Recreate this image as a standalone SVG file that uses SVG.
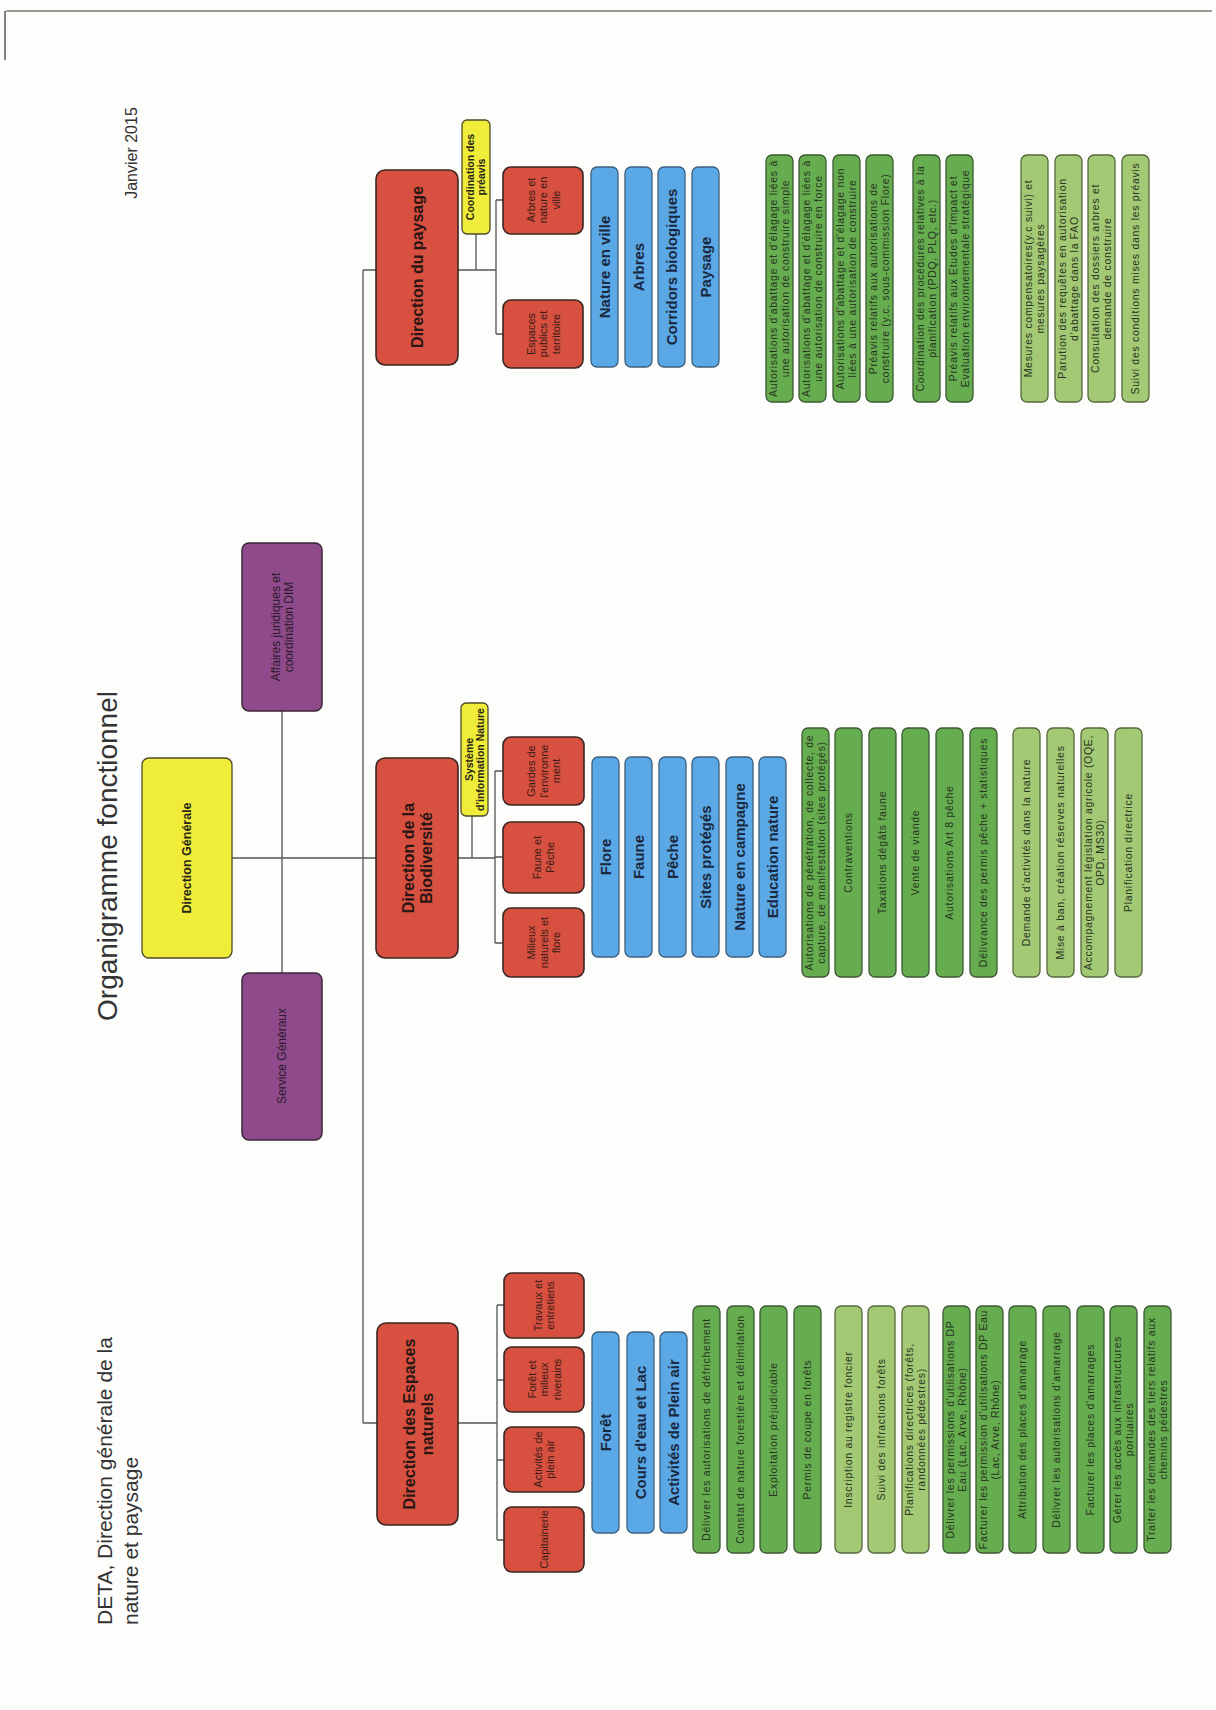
<svg xmlns="http://www.w3.org/2000/svg" width="1216" height="1710" viewBox="0 0 1216 1710">
<style>
text{font-family:"Liberation Sans",Arial,sans-serif;}
.red{fill:#d8503f;stroke:#3a2622;stroke-width:1.6}
.blue{fill:#5aa8e6;stroke:#3c5f7e;stroke-width:1.3}
.yel{fill:#f0ec3a;stroke:#4e4a2c;stroke-width:1.3}
.pur{fill:#8f4a8c;stroke:#3a2838;stroke-width:1.5}
.gm{fill:#66ad4f;stroke:#3c5835;stroke-width:1.3}
.gl{fill:#a3c974;stroke:#56683f;stroke-width:1.3}
.ln{stroke:#555;stroke-width:1.3;fill:none}
.tm{font-size:16px;font-weight:bold;fill:#2a1614;text-anchor:middle}
.tb{font-size:15px;font-weight:bold;fill:#1a2840;text-anchor:middle}
.ts{font-size:11px;fill:#3a1c18;text-anchor:middle}
.tg{font-size:10.5px;letter-spacing:0.7px;fill:#283522;text-anchor:middle}
.ty{font-size:10.5px;font-weight:bold;fill:#2a2814;text-anchor:middle}
.tp{font-size:12px;fill:#2a1a2a;text-anchor:middle}
.tdg{font-size:12.5px;font-weight:bold;fill:#2a2814;text-anchor:middle}
.title{font-size:28px;fill:#333;text-anchor:middle}
.sub{font-size:21px;fill:#333}
.date{font-size:16px;fill:#333;text-anchor:middle}
</style>
<rect width="1216" height="1710" fill="#fdfdfb"/>
<line x1="6" y1="11" x2="1212" y2="11" stroke="#9a9a96" stroke-width="2"/>
<line x1="5" y1="11" x2="5" y2="60" stroke="#555" stroke-width="1.5"/>

<!-- header texts -->
<text class="title" transform="translate(117,856) rotate(-90)">Organigramme fonctionnel</text>
<text class="date" transform="translate(137,153) rotate(-90)">Janvier 2015</text>
<text class="sub" transform="translate(112,1625) rotate(-90)">DETA, Direction générale de la</text>
<text class="sub" transform="translate(138,1625) rotate(-90)">nature et paysage</text>

<!-- connectors -->
<g id="connectors">
<path class="ln" d="M363 270 V1423 M363 270 H376 M363 1423 H377 M232 858 H376 M282 711 V973"/>
<path class="ln" d="M458 270 H496 M476 234 V270 M496 200 V334 M496 200 H503 M496 334 H503"/>
<path class="ln" d="M458 858 H495 M472 816 V858 M495 771 V943 M495 771 H503 M495 857 H503 M495 943 H503"/>
<path class="ln" d="M458 1423 H497 M497 1305 V1540 M497 1305 H504 M497 1380 H504 M497 1460 H504 M497 1540 H504"/>
</g>

<!-- top level -->
<g id="direction-generale"><rect class="yel" x="142" y="758" width="90" height="200" rx="7"/>
<text class="tdg" transform="translate(187,858) rotate(-90)" y="4">Direction Générale</text></g>
<g id="affaires-juridiques"><rect class="pur" x="242" y="543" width="80" height="168" rx="7"/>
<text class="tp" transform="translate(282,627) rotate(-90)"><tspan x="0" y="-2">Affaires juridiques et</tspan><tspan x="0" y="11">coordination DIM</tspan></text></g>
<g id="service-generaux"><rect class="pur" x="242" y="973" width="80" height="167" rx="7"/>
<text class="tp" transform="translate(282,1056) rotate(-90)" y="4">Service Généraux</text></g>

<!-- Direction du paysage -->
<g id="direction-paysage"><rect class="red" x="376" y="170" width="82" height="195" rx="9"/>
<text class="tm" transform="translate(417,267) rotate(-90)" y="5.5">Direction du paysage</text></g>
<g id="coordination-preavis"><rect class="yel" x="462" y="120" width="28" height="114" rx="5"/>
<text class="ty" transform="translate(476,177) rotate(-90)"><tspan x="0" y="-2">Coordination des</tspan><tspan x="0" y="9">préavis</tspan></text></g>
<g id="arbres-nature-ville"><rect class="red" x="503" y="167" width="80" height="67" rx="8"/>
<text class="ts" transform="translate(543,200) rotate(-90)"><tspan x="0" y="-8.5">Arbres et</tspan><tspan x="0" y="4">nature en</tspan><tspan x="0" y="16.5">ville</tspan></text></g>
<g id="espaces-publics"><rect class="red" x="503" y="300" width="80" height="68" rx="8"/>
<text class="ts" transform="translate(543,334) rotate(-90)"><tspan x="0" y="-8.5">Espaces</tspan><tspan x="0" y="4">publics et</tspan><tspan x="0" y="16.5">territoire</tspan></text></g>
<g id="nature-en-ville"><rect class="blue" x="591" y="167" width="27" height="200" rx="6"/><text class="tb" transform="translate(604.5,267) rotate(-90)" y="5.5">Nature en ville</text></g>
<g id="arbres"><rect class="blue" x="625" y="167" width="27" height="200" rx="6"/><text class="tb" transform="translate(638.5,267) rotate(-90)" y="5.5">Arbres</text></g>
<g id="corridors"><rect class="blue" x="658" y="167" width="27" height="200" rx="6"/><text class="tb" transform="translate(671.5,267) rotate(-90)" y="5.5">Corridors biologiques</text></g>
<g id="paysage"><rect class="blue" x="692" y="167" width="27" height="200" rx="6"/><text class="tb" transform="translate(705.5,267) rotate(-90)" y="5.5">Paysage</text></g>

<!-- green tasks paysage -->
<g id="p1"><rect class="gm" x="766" y="155" width="27" height="247" rx="6"/><text class="tg" transform="translate(779.5,278.5) rotate(-90)"><tspan x="0" y="-2.5">Autorisations d'abattage et d'élagage liées à</tspan><tspan x="0" y="9.5">une autorisation de construire simple</tspan></text></g>
<g id="p2"><rect class="gm" x="799" y="155" width="27" height="247" rx="6"/><text class="tg" transform="translate(812.5,278.5) rotate(-90)"><tspan x="0" y="-2.5">Autorisations d'abattage et d'élagage liées à</tspan><tspan x="0" y="9.5">une autorisation de construire en force</tspan></text></g>
<g id="p3"><rect class="gm" x="833" y="155" width="27" height="247" rx="6"/><text class="tg" transform="translate(846.5,278.5) rotate(-90)"><tspan x="0" y="-2.5">Autorisations d'abattage et d'élagage non</tspan><tspan x="0" y="9.5">liées à une autorisation de construire</tspan></text></g>
<g id="p4"><rect class="gm" x="866" y="155" width="27" height="247" rx="6"/><text class="tg" transform="translate(879.5,278.5) rotate(-90)"><tspan x="0" y="-2.5">Préavis relatifs aux autorisations de</tspan><tspan x="0" y="9.5">construire (y.c. sous-commission Flore)</tspan></text></g>
<g id="p5"><rect class="gm" x="913" y="155" width="27" height="247" rx="6"/><text class="tg" transform="translate(926.5,278.5) rotate(-90)"><tspan x="0" y="-2.5">Coordination des procédures relatives à la</tspan><tspan x="0" y="9.5">planification (PDQ, PLQ, etc.)</tspan></text></g>
<g id="p6"><rect class="gm" x="946" y="155" width="27" height="247" rx="6"/><text class="tg" transform="translate(959.5,278.5) rotate(-90)"><tspan x="0" y="-2.5">Préavis relatifs aux Etudes d'Impact et</tspan><tspan x="0" y="9.5">Evaluation environnementale stratégique</tspan></text></g>
<g id="p7"><rect class="gl" x="1021" y="155" width="27" height="247" rx="6"/><text class="tg" transform="translate(1034.5,278.5) rotate(-90)"><tspan x="0" y="-2.5">Mesures compensatoires(y.c suivi) et</tspan><tspan x="0" y="9.5">mesures paysagères</tspan></text></g>
<g id="p8"><rect class="gl" x="1055" y="155" width="27" height="247" rx="6"/><text class="tg" transform="translate(1068.5,278.5) rotate(-90)"><tspan x="0" y="-2.5">Parution des requêtes en autorisation</tspan><tspan x="0" y="9.5">d'abattage dans la FAO</tspan></text></g>
<g id="p9"><rect class="gl" x="1088" y="155" width="27" height="247" rx="6"/><text class="tg" transform="translate(1101.5,278.5) rotate(-90)"><tspan x="0" y="-2.5">Consultation des dossiers arbres et</tspan><tspan x="0" y="9.5">demande de construire</tspan></text></g>
<g id="p10"><rect class="gl" x="1122" y="155" width="27" height="247" rx="6"/><text class="tg" transform="translate(1135.5,278.5) rotate(-90)" y="3.5">Suivi des conditions mises dans les préavis</text></g>

<!-- Direction de la Biodiversité -->
<g id="direction-biodiversite"><rect class="red" x="376" y="758" width="82" height="200" rx="9"/>
<text class="tm" transform="translate(417,858) rotate(-90)"><tspan x="0" y="-3">Direction de la</tspan><tspan x="0" y="15">Biodiversité</tspan></text></g>
<g id="systeme-information"><rect class="yel" x="461" y="703" width="27" height="113" rx="5"/>
<text class="ty" transform="translate(474.5,759.5) rotate(-90)"><tspan x="0" y="-2">Système</tspan><tspan x="0" y="9">d'information Nature</tspan></text></g>
<g id="gardes"><rect class="red" x="503" y="737" width="81" height="68" rx="8"/>
<text class="ts" transform="translate(543.5,771) rotate(-90)"><tspan x="0" y="-8.5">Gardes de</tspan><tspan x="0" y="4">l'environne</tspan><tspan x="0" y="16.5">ment</tspan></text></g>
<g id="faune-peche"><rect class="red" x="503" y="822" width="81" height="71" rx="8"/>
<text class="ts" transform="translate(543.5,857.5) rotate(-90)"><tspan x="0" y="-2.5">Faune et</tspan><tspan x="0" y="10">Pêche</tspan></text></g>
<g id="milieux"><rect class="red" x="503" y="908" width="81" height="69" rx="8"/>
<text class="ts" transform="translate(543.5,942.5) rotate(-90)"><tspan x="0" y="-8.5">Milieux</tspan><tspan x="0" y="4">naturels et</tspan><tspan x="0" y="16.5">flore</tspan></text></g>
<g id="flore"><rect class="blue" x="592" y="757" width="27" height="200" rx="6"/><text class="tb" transform="translate(605.5,857) rotate(-90)" y="5.5">Flore</text></g>
<g id="faune"><rect class="blue" x="625" y="757" width="27" height="200" rx="6"/><text class="tb" transform="translate(638.5,857) rotate(-90)" y="5.5">Faune</text></g>
<g id="peche"><rect class="blue" x="659" y="757" width="27" height="200" rx="6"/><text class="tb" transform="translate(672.5,857) rotate(-90)" y="5.5">Pêche</text></g>
<g id="sites"><rect class="blue" x="692" y="757" width="27" height="200" rx="6"/><text class="tb" transform="translate(705.5,857) rotate(-90)" y="5.5">Sites protégés</text></g>
<g id="campagne"><rect class="blue" x="726" y="757" width="27" height="200" rx="6"/><text class="tb" transform="translate(739.5,857) rotate(-90)" y="5.5">Nature en campagne</text></g>
<g id="education"><rect class="blue" x="759" y="757" width="27" height="200" rx="6"/><text class="tb" transform="translate(772.5,857) rotate(-90)" y="5.5">Education nature</text></g>

<!-- green tasks biodiversité -->
<g id="b1"><rect class="gm" x="802" y="728" width="27" height="249" rx="6"/><text class="tg" transform="translate(815.5,852.5) rotate(-90)"><tspan x="0" y="-2.5">Autorisations de pénétration, de collecte, de</tspan><tspan x="0" y="9.5">capture, de manifestation (sites protégés)</tspan></text></g>
<g id="b2"><rect class="gm" x="835" y="728" width="27" height="249" rx="6"/><text class="tg" transform="translate(848.5,852.5) rotate(-90)" y="3.5">Contraventions</text></g>
<g id="b3"><rect class="gm" x="869" y="728" width="27" height="249" rx="6"/><text class="tg" transform="translate(882.5,852.5) rotate(-90)" y="3.5">Taxations dégâts faune</text></g>
<g id="b4"><rect class="gm" x="902" y="728" width="27" height="249" rx="6"/><text class="tg" transform="translate(915.5,852.5) rotate(-90)" y="3.5">Vente de viande</text></g>
<g id="b5"><rect class="gm" x="936" y="728" width="27" height="249" rx="6"/><text class="tg" transform="translate(949.5,852.5) rotate(-90)" y="3.5">Autorisations Art 8 pêche</text></g>
<g id="b6"><rect class="gm" x="970" y="728" width="27" height="249" rx="6"/><text class="tg" transform="translate(983.5,852.5) rotate(-90)" y="3.5">Délivrance des permis pêche + statistiques</text></g>
<g id="b7"><rect class="gl" x="1013" y="728" width="27" height="249" rx="6"/><text class="tg" transform="translate(1026.5,852.5) rotate(-90)" y="3.5">Demande d'activités dans la nature</text></g>
<g id="b8"><rect class="gl" x="1047" y="728" width="27" height="249" rx="6"/><text class="tg" transform="translate(1060.5,852.5) rotate(-90)" y="3.5">Mise à ban, création réserves naturelles</text></g>
<g id="b9"><rect class="gl" x="1081" y="728" width="27" height="249" rx="6"/><text class="tg" transform="translate(1094.5,852.5) rotate(-90)"><tspan x="0" y="-2.5">Accompagnement législation agricole (OQE,</tspan><tspan x="0" y="9.5">OPD, MS30)</tspan></text></g>
<g id="b10"><rect class="gl" x="1115" y="728" width="27" height="249" rx="6"/><text class="tg" transform="translate(1128.5,852.5) rotate(-90)" y="3.5">Planification directrice</text></g>

<!-- Direction des Espaces naturels -->
<g id="direction-espaces"><rect class="red" x="377" y="1323" width="81" height="202" rx="9"/>
<text class="tm" transform="translate(417.5,1424) rotate(-90)"><tspan x="0" y="-3">Direction des Espaces</tspan><tspan x="0" y="15">naturels</tspan></text></g>
<g id="travaux"><rect class="red" x="504" y="1273" width="80" height="65" rx="8"/>
<text class="ts" transform="translate(544,1305.5) rotate(-90)"><tspan x="0" y="-2.5">Travaux et</tspan><tspan x="0" y="10">entretiens</tspan></text></g>
<g id="foret-milieux"><rect class="red" x="504" y="1347" width="80" height="65" rx="8"/>
<text class="ts" transform="translate(544,1379.5) rotate(-90)"><tspan x="0" y="-8.5">Forêt et</tspan><tspan x="0" y="4">milieux</tspan><tspan x="0" y="16.5">riverains</tspan></text></g>
<g id="activites-plein-air"><rect class="red" x="504" y="1427" width="80" height="65" rx="8"/>
<text class="ts" transform="translate(544,1459.5) rotate(-90)"><tspan x="0" y="-2.5">Activités de</tspan><tspan x="0" y="10">plein air</tspan></text></g>
<g id="capitainerie"><rect class="red" x="504" y="1507" width="80" height="65" rx="8"/>
<text class="ts" transform="translate(544,1539.5) rotate(-90)" y="4">Capitainerie</text></g>
<g id="foret"><rect class="blue" x="592" y="1332" width="27" height="201" rx="6"/><text class="tb" transform="translate(605.5,1432.5) rotate(-90)" y="5.5">Forêt</text></g>
<g id="cours-eau"><rect class="blue" x="627" y="1332" width="27" height="201" rx="6"/><text class="tb" transform="translate(640.5,1432.5) rotate(-90)" y="5.5">Cours d'eau et Lac</text></g>
<g id="plein-air"><rect class="blue" x="660" y="1332" width="27" height="201" rx="6"/><text class="tb" transform="translate(673.5,1432.5) rotate(-90)" y="5.5">Activités de Plein air</text></g>

<!-- green tasks espaces naturels -->
<g id="e1"><rect class="gm" x="693" y="1306" width="27" height="247" rx="6"/><text class="tg" transform="translate(706.5,1429.5) rotate(-90)" y="3.5">Délivrer les autorisations de défrichement</text></g>
<g id="e2"><rect class="gm" x="727" y="1306" width="27" height="247" rx="6"/><text class="tg" transform="translate(740.5,1429.5) rotate(-90)" y="3.5">Constat de nature forestière et délimitation</text></g>
<g id="e3"><rect class="gm" x="760" y="1306" width="27" height="247" rx="6"/><text class="tg" transform="translate(773.5,1429.5) rotate(-90)" y="3.5">Exploitation préjudiciable</text></g>
<g id="e4"><rect class="gm" x="794" y="1306" width="27" height="247" rx="6"/><text class="tg" transform="translate(807.5,1429.5) rotate(-90)" y="3.5">Permis de coupe en forêts</text></g>
<g id="e5"><rect class="gl" x="835" y="1306" width="27" height="247" rx="6"/><text class="tg" transform="translate(848.5,1429.5) rotate(-90)" y="3.5">Inscription au registre foncier</text></g>
<g id="e6"><rect class="gl" x="868" y="1306" width="27" height="247" rx="6"/><text class="tg" transform="translate(881.5,1429.5) rotate(-90)" y="3.5">Suivi des infractions forêts</text></g>
<g id="e7"><rect class="gl" x="902" y="1306" width="27" height="247" rx="6"/><text class="tg" transform="translate(915.5,1429.5) rotate(-90)"><tspan x="0" y="-2.5">Planifications directrices (forêts,</tspan><tspan x="0" y="9.5">randonnées pédestres)</tspan></text></g>
<g id="e8"><rect class="gm" x="943" y="1306" width="27" height="247" rx="6"/><text class="tg" transform="translate(956.5,1429.5) rotate(-90)"><tspan x="0" y="-2.5">Délivrer les permissions d'utilisations DP</tspan><tspan x="0" y="9.5">Eau (Lac, Arve, Rhône)</tspan></text></g>
<g id="e9"><rect class="gm" x="976" y="1306" width="27" height="247" rx="6"/><text class="tg" transform="translate(989.5,1429.5) rotate(-90)"><tspan x="0" y="-2.5">Facturer les permission d'utilisations DP Eau</tspan><tspan x="0" y="9.5">(Lac, Arve, Rhône)</tspan></text></g>
<g id="e10"><rect class="gm" x="1009" y="1306" width="27" height="247" rx="6"/><text class="tg" transform="translate(1022.5,1429.5) rotate(-90)" y="3.5">Attribution des places d'amarrage</text></g>
<g id="e11"><rect class="gm" x="1043" y="1306" width="27" height="247" rx="6"/><text class="tg" transform="translate(1056.5,1429.5) rotate(-90)" y="3.5">Délivrer les autorisations d'amarrage</text></g>
<g id="e12"><rect class="gm" x="1077" y="1306" width="27" height="247" rx="6"/><text class="tg" transform="translate(1090.5,1429.5) rotate(-90)" y="3.5">Facturer les places d'amarrages</text></g>
<g id="e13"><rect class="gm" x="1110" y="1306" width="27" height="247" rx="6"/><text class="tg" transform="translate(1123.5,1429.5) rotate(-90)"><tspan x="0" y="-2.5">Gérer les accès aux infrastructures</tspan><tspan x="0" y="9.5">portuaires</tspan></text></g>
<g id="e14"><rect class="gm" x="1144" y="1306" width="27" height="247" rx="6"/><text class="tg" transform="translate(1157.5,1429.5) rotate(-90)"><tspan x="0" y="-2.5">Traiter les demandes des tiers relatifs aux</tspan><tspan x="0" y="9.5">chemins pédestres</tspan></text></g>
</svg>
